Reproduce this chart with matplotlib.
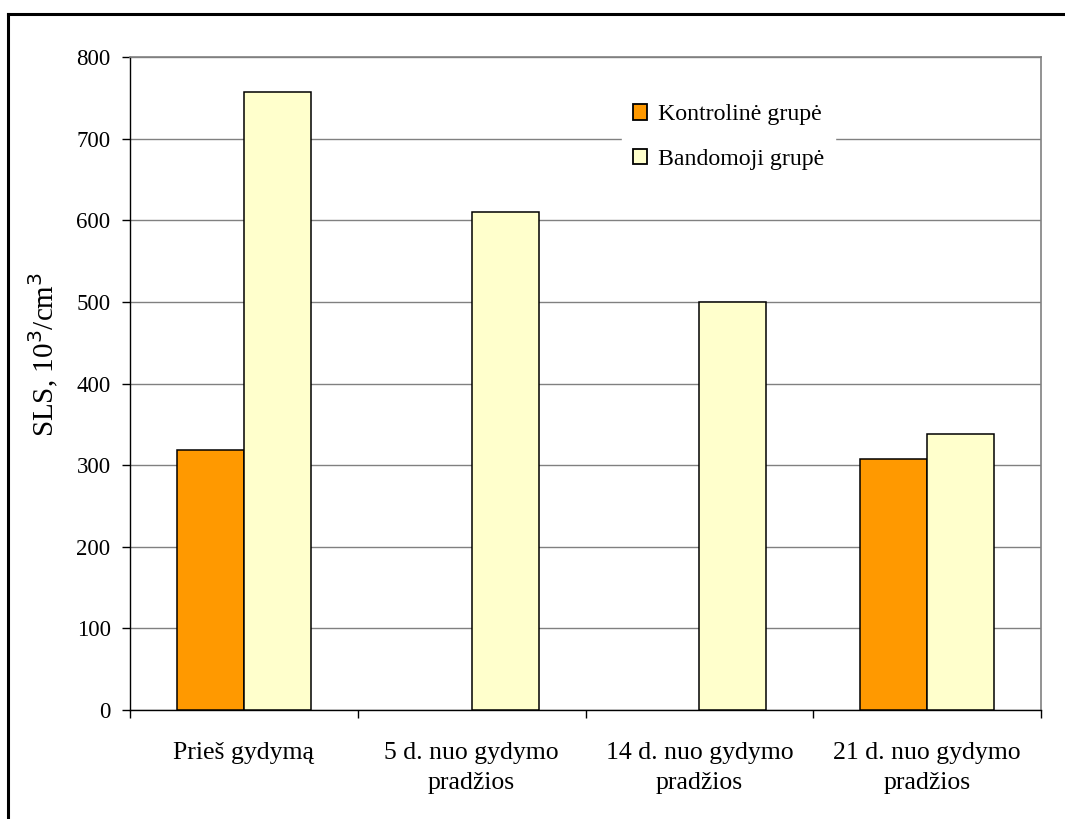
import numpy as np
import matplotlib.pyplot as plt
from matplotlib.lines import Line2D

plt.rcParams['font.family'] = ['Liberation Serif', 'DejaVu Serif']

# Duomenys
kategorijos = ['Prieš gydymą', '5 d. nuo gydymo\npradžios',
               '14 d. nuo gydymo\npradžios', '21 d. nuo gydymo\npradžios']
kontroline = [318, np.nan, np.nan, 308]
bandomoji = [757, 610, 500, 338]
serijos = ['Kontrolinė grupė', 'Bandomoji grupė']
spalvos = ['#FF9900', '#FFFFCC']

fig = plt.figure(figsize=(10.65, 8.19), dpi=100)
ax = fig.add_axes([130 / 1065, 1 - 710 / 819, 911 / 1065, 653 / 819])

x = np.arange(len(kategorijos))
w = 0.294
ax.bar(x - w / 2, kontroline, w, color=spalvos[0], edgecolor='black',
       linewidth=1.1, label=serijos[0], zorder=3)
ax.bar(x + w / 2, bandomoji, w, color=spalvos[1], edgecolor='black',
       linewidth=1.1, label=serijos[1], zorder=3)

ax.set_xlim(-0.5, len(kategorijos) - 0.5)
ax.set_ylim(0, 800)
ax.set_yticks(range(0, 801, 100))
ax.yaxis.grid(True, color='#808080', linewidth=1, zorder=0)
ax.set_axisbelow(True)

# x ašies žymės tarp kategorijų
ax.set_xticks(np.arange(-0.5, len(kategorijos), 1))
ax.set_xticklabels([])
ax.set_xticks(x, minor=True)
ax.set_xticklabels(kategorijos, minor=True, fontsize=18.5, linespacing=1.45)
ax.tick_params(axis='x', which='major', direction='out', length=6, width=1)
ax.tick_params(axis='x', which='minor', length=0, pad=23)
ax.tick_params(axis='y', direction='out', length=6, width=1, labelsize=16.5, pad=8)

for s in ['top', 'right']:
    ax.spines[s].set_color('#808080')
    ax.spines[s].set_linewidth(1.2)
for s in ['left', 'bottom']:
    ax.spines[s].set_color('black')
    ax.spines[s].set_linewidth(1)

ax.set_ylabel('SLS, 10$^3$/cm$^3$', fontsize=21)
ax.yaxis.set_label_coords(-0.076, 0.544)

leg = ax.legend(loc='center', bbox_to_anchor=(0.657, 0.877), fontsize=17.2,
                frameon=True, edgecolor='white', facecolor='white', framealpha=1,
                fancybox=False, handlelength=0.6, handleheight=0.6,
                handletextpad=0.45, labelspacing=1.0, borderpad=0.45)
for h in leg.legend_handles:
    h.set_linewidth(1.3)

# rėmelis aplink paveikslą
fig.add_artist(Line2D([8 / 1065, 1.01], [1 - 14 / 819, 1 - 14 / 819],
                      transform=fig.transFigure, color='black', linewidth=2.2))
fig.add_artist(Line2D([8 / 1065, 8 / 1065], [1 - 14 / 819, -0.01],
                      transform=fig.transFigure, color='black', linewidth=2.2))

fig.savefig('out.png', dpi=100)
